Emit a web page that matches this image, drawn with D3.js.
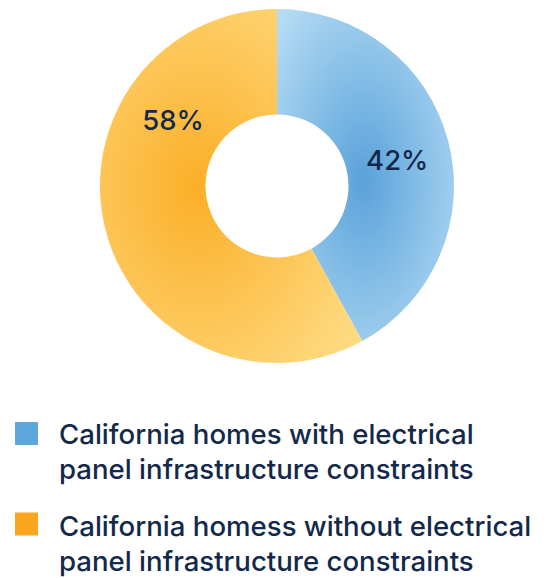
<!DOCTYPE html>
<html><head><meta charset="utf-8">
<script src="https://cdn.jsdelivr.net/npm/d3@7"></script>
<style>
  body { margin: 0; background: #fff; }
  text { font-family: Inter, "Noto Sans", sans-serif; font-weight: 500; fill: #13294b; }
</style>
</head><body>
<svg id="chart" width="546" height="578"></svg>
<script>
// Share of California homes by electrical panel situation
const categories = ["with", "without"];
const values = [42, 58];
const valueLabels = ["42%", "58%"];
const legendLines = [
  ["California homes with electrical", "panel infrastructure constraints"],
  ["California homess without electrical", "panel infrastructure constraints"]
];

// Visual styling
const centerColors = ["#5aa2da", "#fbaf28"];
const edgeColors = ["#b8def5", "#fed97e"];
const swatchColors = ["#5ea7dc", "#fba61f"];
const gradientCenters = [[0.49, 0.515], [0.37, 0.505]];
const labelAlong = [0.515, 0.724];

const cx = 277, cy = 186;
const outerR = 177, innerR = 71.5, labelR = 123;
const fontSize = 27.6, lineGap = 34.5;

const svg = d3.select("#chart");
const defs = svg.append("defs");

categories.forEach((c, i) => {
  const g = defs.append("radialGradient")
    .attr("id", "grad-" + c)
    .attr("gradientUnits", "objectBoundingBox")
    .attr("cx", gradientCenters[i][0]).attr("cy", gradientCenters[i][1])
    .attr("fx", gradientCenters[i][0]).attr("fy", gradientCenters[i][1])
    .attr("r", 0.7);
  g.append("stop").attr("offset", "0%").attr("stop-color", centerColors[i]);
  g.append("stop").attr("offset", "100%").attr("stop-color", edgeColors[i]);
});

const pie = d3.pie().sort(null).value(d => d.value);
const data = categories.map((c, i) => ({ key: c, value: values[i], label: valueLabels[i], idx: i }));
const arcs = pie(data);
const arc = d3.arc().innerRadius(innerR).outerRadius(outerR);

const g = svg.append("g").attr("transform", `translate(${cx},${cy})`);

g.selectAll("path.slice")
  .data(arcs)
  .join("path")
  .attr("class", "slice")
  .attr("d", arc)
  .attr("fill", d => `url(#grad-${d.data.key})`);

// Value labels sit on the ring's mid radius
const labelArc = d3.arc().innerRadius(labelR).outerRadius(labelR);
g.selectAll("text.value")
  .data(arcs)
  .join("text")
  .attr("class", "value")
  .attr("text-anchor", "middle")
  .attr("font-size", 27.5)
  .attr("transform", d => {
    const a = d.startAngle + (d.endAngle - d.startAngle) * labelAlong[d.data.idx];
    const [x, y] = labelArc.centroid({ startAngle: a, endAngle: a });
    return `translate(${x},${y + 10})`;
  })
  .text(d => d.data.label);

// Legend
const swatchTop = [422, 512.5];
const firstBaseline = [444, 536];
data.forEach((d, i) => {
  svg.append("rect")
    .attr("x", 15).attr("y", swatchTop[i])
    .attr("width", 23).attr("height", 23)
    .attr("fill", swatchColors[i]);
  svg.append("g").selectAll("text")
    .data(legendLines[i])
    .join("text")
    .attr("x", 59)
    .attr("y", (t, j) => firstBaseline[i] + j * lineGap)
    .attr("font-size", fontSize)
    .text(t => t);
});
</script></body></html>
